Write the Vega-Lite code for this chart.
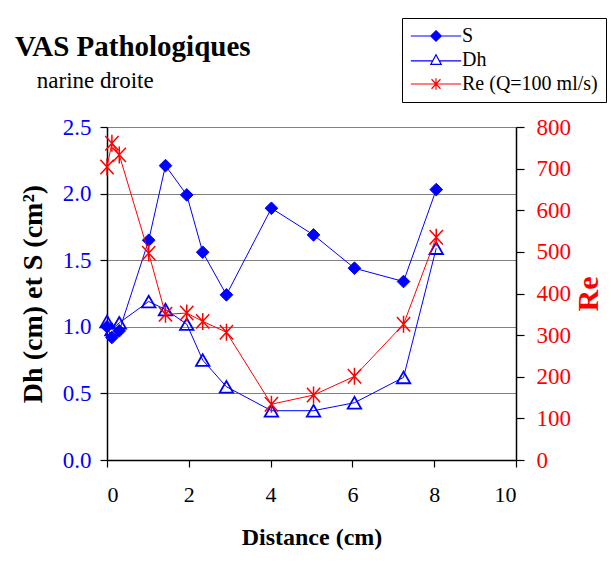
{
  "$schema": "https://vega.github.io/schema/vega-lite/v6.json",
  "width": 409,
  "height": 333,
  "autosize": {"type": "none"},
  "padding": {"left": 107, "top": 127, "right": 95, "bottom": 103},
  "background": "white",
  "title": {
    "text": "VAS Pathologiques",
    "subtitle": "\u200b\u00a0\u00a0\u00a0\u2009narine droite",
    "anchor": "start",
    "frame": "group",
    "dx": -92,
    "offset": -75,
    "font": "Liberation Serif, DejaVu Serif",
    "fontWeight": "bold",
    "fontSize": 29,
    "subtitleFont": "Liberation Serif, DejaVu Serif",
    "subtitleFontSize": 23
  },
  "datasets": {
    "sdh": [
      {"series": "S", "distance": 0, "value": 1.0},
      {"series": "S", "distance": 0.12, "value": 0.92},
      {"series": "S", "distance": 0.3, "value": 0.97},
      {"series": "S", "distance": 1.02, "value": 1.65},
      {"series": "S", "distance": 1.43, "value": 2.21},
      {"series": "S", "distance": 1.95, "value": 1.99},
      {"series": "S", "distance": 2.34, "value": 1.56},
      {"series": "S", "distance": 2.92, "value": 1.24},
      {"series": "S", "distance": 4.02, "value": 1.89},
      {"series": "S", "distance": 5.05, "value": 1.69},
      {"series": "S", "distance": 6.05, "value": 1.44},
      {"series": "S", "distance": 7.25, "value": 1.34},
      {"series": "S", "distance": 8.05, "value": 2.03},
      {"series": "Dh", "distance": 0, "value": 1.04},
      {"series": "Dh", "distance": 0.12, "value": 0.98},
      {"series": "Dh", "distance": 0.3, "value": 1.03},
      {"series": "Dh", "distance": 1.02, "value": 1.19},
      {"series": "Dh", "distance": 1.43, "value": 1.13},
      {"series": "Dh", "distance": 1.95, "value": 1.02},
      {"series": "Dh", "distance": 2.34, "value": 0.75},
      {"series": "Dh", "distance": 2.92, "value": 0.55},
      {"series": "Dh", "distance": 4.02, "value": 0.37},
      {"series": "Dh", "distance": 5.05, "value": 0.37},
      {"series": "Dh", "distance": 6.05, "value": 0.43},
      {"series": "Dh", "distance": 7.25, "value": 0.62},
      {"series": "Dh", "distance": 8.05, "value": 1.59}
    ],
    "re": [
      {"distance": 0, "re": 704},
      {"distance": 0.12, "re": 761},
      {"distance": 0.3, "re": 733},
      {"distance": 1.02, "re": 497},
      {"distance": 1.43, "re": 350},
      {"distance": 1.95, "re": 353},
      {"distance": 2.34, "re": 333},
      {"distance": 2.92, "re": 307},
      {"distance": 4.02, "re": 134},
      {"distance": 5.05, "re": 156},
      {"distance": 6.05, "re": 201},
      {"distance": 7.25, "re": 326},
      {"distance": 8.05, "re": 535}
    ],
    "leg": [
      {"series": "S"},
      {"series": "Dh"},
      {"series": "Re (Q=100 ml/s)"}
    ]
  },
  "layer": [
    {
      "layer": [
        {
          "data": {"name": "sdh"},
          "transform": [{"filter": "datum.series === 'Dh'"}],
          "mark": {"type": "line", "color": "#0000ff", "strokeWidth": 1},
          "encoding": {
            "x": {"field": "distance", "type": "quantitative", "scale": {"domain": [0, 10], "nice": false}, "axis": {"values": [0, 2, 4, 6, 8, 10], "title": "Distance (cm)", "grid": false}},
            "y": {"field": "value", "type": "quantitative", "scale": {"domain": [0, 2.5], "nice": false}, "axis": {"values": [0, 0.5, 1, 1.5, 2, 2.5], "format": ".1f", "title": "Dh (cm) et S (cm²)", "grid": true}}
          }
        },
        {
          "data": {"name": "sdh"},
          "transform": [{"filter": "datum.series === 'Dh'"}],
          "mark": {"type": "point", "shape": "triangle-up", "filled": false, "color": "#0000ff", "size": 180, "strokeWidth": 1.8, "opacity": 1},
          "encoding": {
            "x": {"field": "distance", "type": "quantitative", "scale": {"domain": [0, 10], "nice": false}, "axis": {"values": [0, 2, 4, 6, 8, 10], "title": "Distance (cm)", "grid": false}},
            "y": {"field": "value", "type": "quantitative", "scale": {"domain": [0, 2.5], "nice": false}, "axis": {"values": [0, 0.5, 1, 1.5, 2, 2.5], "format": ".1f", "title": "Dh (cm) et S (cm²)", "grid": true}}
          }
        },
        {
          "data": {"name": "sdh"},
          "transform": [{"filter": "datum.series === 'S'"}],
          "mark": {"type": "line", "color": "#0000ff", "strokeWidth": 1},
          "encoding": {
            "x": {"field": "distance", "type": "quantitative", "scale": {"domain": [0, 10], "nice": false}, "axis": {"values": [0, 2, 4, 6, 8, 10], "title": "Distance (cm)", "grid": false}},
            "y": {"field": "value", "type": "quantitative", "scale": {"domain": [0, 2.5], "nice": false}, "axis": {"values": [0, 0.5, 1, 1.5, 2, 2.5], "format": ".1f", "title": "Dh (cm) et S (cm²)", "grid": true}}
          }
        },
        {
          "data": {"name": "sdh"},
          "transform": [{"filter": "datum.series === 'S'"}],
          "mark": {"type": "point", "shape": "diamond", "filled": true, "color": "#0000ff", "size": 160, "strokeWidth": 1, "stroke": "#0000ff", "opacity": 1},
          "encoding": {
            "x": {"field": "distance", "type": "quantitative", "scale": {"domain": [0, 10], "nice": false}, "axis": {"values": [0, 2, 4, 6, 8, 10], "title": "Distance (cm)", "grid": false}},
            "y": {"field": "value", "type": "quantitative", "scale": {"domain": [0, 2.5], "nice": false}, "axis": {"values": [0, 0.5, 1, 1.5, 2, 2.5], "format": ".1f", "title": "Dh (cm) et S (cm²)", "grid": true}}
          }
        },
        {
          "data": {"name": "leg"},
          "mark": {"type": "point", "opacity": 0, "strokeWidth": 1.2, "size": 110},
          "encoding": {
            "shape": {"field": "series", "type": "nominal", "scale": {"domain": ["S", "Dh", "Re (Q=100 ml/s)"], "range": ["M-4.8,0H4.8M0,-1L1,0L0,1L-1,0Z", "M-4.8,0.15H-0.63M0.63,0.15H4.8M0,-1L1,0.85L-1,0.85Z", "M-4.8,0H4.8M0,-1.1L0,1.1M-0.85,-0.9L0.85,0.9M-0.85,0.9L0.85,-0.9"]}, "legend": {"title": null, "orient": "none", "legendX": 295, "legendY": -109}},
            "stroke": {"field": "series", "type": "nominal", "scale": {"domain": ["S", "Dh", "Re (Q=100 ml/s)"], "range": ["#0000ff", "#0000ff", "#ff0000"]}, "legend": {"title": null, "orient": "none", "legendX": 295, "legendY": -109}},
            "fill": {"field": "series", "type": "nominal", "scale": {"domain": ["S", "Dh", "Re (Q=100 ml/s)"], "range": ["#0000ff", "#ffffff", "#ff0000"]}, "legend": {"title": null, "orient": "none", "legendX": 295, "legendY": -109}}
          }
        }
      ]
    },
    {
      "data": {"name": "re"},
      "layer": [
        {
          "mark": {"type": "line", "color": "#ff0000", "strokeWidth": 1},
          "encoding": {
            "x": {"field": "distance", "type": "quantitative", "scale": {"domain": [0, 10], "nice": false}, "axis": {"values": [0, 2, 4, 6, 8, 10], "title": "Distance (cm)", "grid": false}},
            "y": {"field": "re", "type": "quantitative", "scale": {"domain": [0, 800], "nice": false}, "axis": {"values": [0, 100, 200, 300, 400, 500, 600, 700, 800], "title": "Re", "grid": false}}
          }
        },
        {
          "mark": {"type": "point", "shape": "M0,-1L0,1M-0.78,-0.85L0.78,0.85M-0.78,0.85L0.78,-0.85", "filled": false, "color": "#ff0000", "size": 289, "strokeWidth": 1.5, "opacity": 1},
          "encoding": {
            "x": {"field": "distance", "type": "quantitative", "scale": {"domain": [0, 10], "nice": false}, "axis": {"values": [0, 2, 4, 6, 8, 10], "title": "Distance (cm)", "grid": false}},
            "y": {"field": "re", "type": "quantitative", "scale": {"domain": [0, 800], "nice": false}, "axis": {"values": [0, 100, 200, 300, 400, 500, 600, 700, 800], "title": "Re", "grid": false}}
          }
        }
      ]
    }
  ],
  "resolve": {"scale": {"y": "independent"}},
  "config": {
    "view": {"stroke": null},
    "title": {
      "font": "Liberation Serif, DejaVu Serif",
      "fontSize": 29,
      "fontWeight": "bold",
      "color": "black",
      "subtitleFont": "Liberation Serif, DejaVu Serif",
      "subtitleFontSize": 23,
      "subtitleColor": "black",
      "subtitlePadding": 8
    },
    "axis": {
      "titleFont": "Liberation Serif, DejaVu Serif",
      "titleFontWeight": "bold",
      "domainColor": "black",
      "domainWidth": 1.5,
      "tickColor": "black",
      "tickWidth": 1.2,
      "gridColor": "#808080",
      "gridWidth": 1.2
    },
    "axisX": {"labelFont": "Liberation Serif, DejaVu Serif", "labelFontSize": 22, "labelColor": "black", "tickSize": 7, "labelPadding": 17, "titleFontSize": 24, "titleColor": "black", "titlePadding": 20},
    "axisLeft": {"labelFont": "Liberation Serif, DejaVu Serif", "labelFontSize": 23, "labelColor": "#0000ff", "tickSize": 7, "labelPadding": 9, "titleFontSize": 28, "titleColor": "black", "titlePadding": 15},
    "axisRight": {"labelFont": "Liberation Serif, DejaVu Serif", "labelFontSize": 23, "labelColor": "#ff0000", "tickSize": 8, "labelPadding": 12, "titleFontSize": 30, "titleColor": "#ff0000", "titleAngle": 270, "titleBaseline": "top", "titlePadding": 3},
    "legend": {
      "labelFont": "Liberation Serif, DejaVu Serif",
      "labelFontSize": 20,
      "labelColor": "black",
      "strokeColor": "black",
      "fillColor": "white",
      "padding": 8,
      "symbolSize": 110,
      "symbolStrokeWidth": 1.2,
      "symbolOpacity": 1,
      "symbolOffset": 16,
      "labelOffset": 16,
      "rowPadding": 4
    }
  }
}
